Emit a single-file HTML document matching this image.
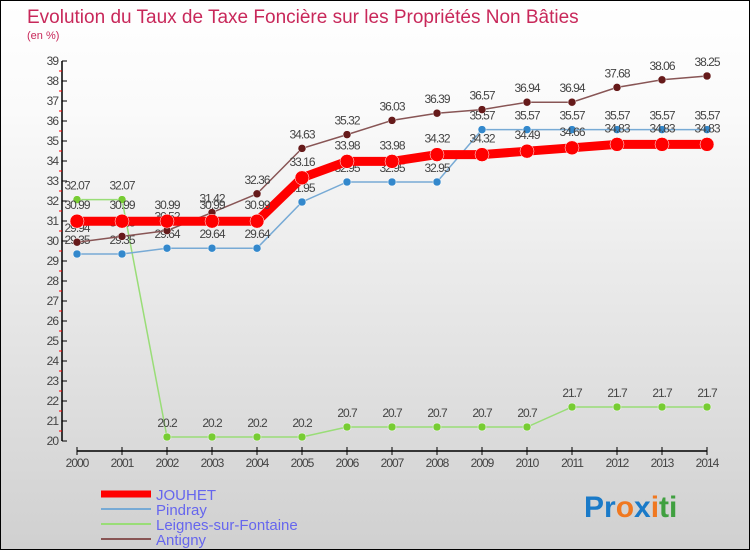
<!DOCTYPE html>
<html><head><meta charset="utf-8"><style>
body{margin:0}
#c{width:750px;height:550px;position:relative;box-sizing:border-box;border:1px solid #000;background:linear-gradient(#fff,#fafafa 20%,#d0d0d0);font-family:"Liberation Sans",sans-serif;overflow:hidden}
</style></head><body>
<div id="c">
<svg id="s" width="750" height="550" xmlns="http://www.w3.org/2000/svg">
<text x="26" y="22" font-size="19" fill="#c8285a">Evolution du Taux de Taxe Foncière sur les Propriétés Non Bâties</text>
<text x="26" y="38" font-size="11" fill="#c8285a">(en %)</text>
<g id="axes"></g><g id="series"></g><g id="legend"></g>
<text x="583" y="516" font-size="30" font-weight="bold"><tspan fill="#1a7ac8">Pr</tspan><tspan fill="#f07820">o</tspan><tspan fill="#1a7ac8">x</tspan><tspan fill="#f07820">i</tspan><tspan fill="#40a040">ti</tspan></text>
</svg></div>
<script>
const years=[2000,2001,2002,2003,2004,2005,2006,2007,2008,2009,2010,2011,2012,2013,2014];
const yTicks=[20,21,22,23,24,25,26,27,28,29,30,31,32,33,34,35,36,37,38,39];
const jouhet=[30.99,30.99,30.99,30.99,30.99,33.16,33.98,33.98,34.32,34.32,34.49,34.66,34.83,34.83,34.83];
const pindray=[29.35,29.35,29.64,29.64,29.64,31.95,32.95,32.95,32.95,35.57,35.57,35.57,35.57,35.57,35.57];
const leignes=[32.07,32.07,20.2,20.2,20.2,20.2,20.7,20.7,20.7,20.7,20.7,21.7,21.7,21.7,21.7];
const antigny=[29.94,30.23,30.52,31.42,32.36,34.63,35.32,36.03,36.39,36.57,36.94,36.94,37.68,38.06,38.25];
const NS="http://www.w3.org/2000/svg";
const X=i=>76+i*45, Y=v=>440-(v-20)*20;
function mk(p,t,a){const e=document.createElementNS(NS,t);for(const k in a)e.setAttribute(k,a[k]);p.appendChild(e);return e;}
const ax=document.getElementById('axes');
let l=mk(ax,'line',{x1:61,y1:60,x2:61,y2:440,stroke:'#000','stroke-width':1.5});

l=mk(ax,'line',{x1:76,y1:450,x2:706,y2:450,stroke:'#000','stroke-width':1.5});

yTicks.forEach(v=>{mk(ax,'line',{x1:61,y1:Y(v),x2:66,y2:Y(v),stroke:'#000'});
 if(v<39)mk(ax,'line',{x1:58,y1:Y(v+0.5),x2:61,y2:Y(v+0.5),stroke:'#f00'});
 const t=mk(ax,'text',{x:57,y:Y(v)+4,'font-size':12,fill:'#444','text-anchor':'end','letter-spacing':'-1'});t.textContent=v;
 });
years.forEach((y,i)=>{mk(ax,'line',{x1:X(i),y1:446,x2:X(i),y2:454,stroke:'#000'});
 const t=mk(ax,'text',{x:X(i),y:466,'font-size':12,fill:'#444','text-anchor':'middle','letter-spacing':'-1'});t.textContent=y;
 });
const sg=document.getElementById('series');
function series(d,col,w,r,dot,name,lab){
 const g=mk(sg,'g',{});
 mk(g,'polyline',{points:d.map((v,i)=>X(i)+','+Y(v)).join(' '),fill:'none',stroke:col,'stroke-width':w});
 d.forEach((v,i)=>{const c=mk(g,'circle',{cx:X(i),cy:Y(v),r:r,fill:dot,stroke:'#fff','stroke-width':0.5});
  
  const t=mk(g,'text',{x:X(i),y:Y(v)-8-lab,'font-size':12,fill:'#444','text-anchor':'middle','letter-spacing':'-1'});t.textContent=v;
  });
}
series(leignes,'#99dd77',1.5,4,'#77cc33','leignes',2);
series(pindray,'#77aad5',1.5,4,'#3388cc','pindray',2);
series(antigny,'#885555',1.5,4,'#661a1a','antigny',2);
series(jouhet,'#ff0000',9,7,'#ff0000','jouhet',4);
const lg=document.getElementById('legend');
[['JOUHET','#ff0000',7],['Pindray','#77aad5',2],['Leignes-sur-Fontaine','#99dd77',2],['Antigny','#885555',2]].forEach((e,i)=>{
 const y=493+i*15;const g=mk(lg,'g',{});
 mk(g,'line',{x1:100,y1:y,x2:150,y2:y,stroke:e[1],'stroke-width':e[2]});
 const t=mk(g,'text',{x:155,y:y+6,'font-size':15,fill:'#6666ee'});t.textContent=e[0];});
</script>
</body></html>
